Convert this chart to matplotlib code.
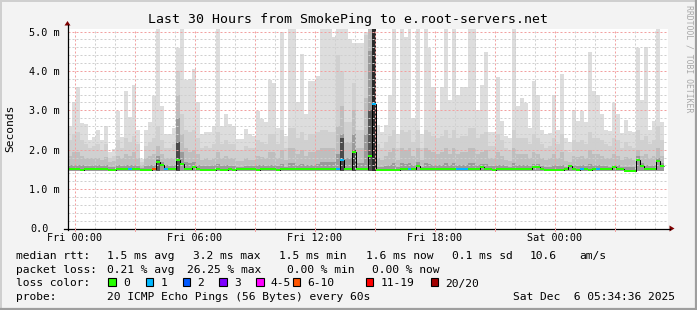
import numpy as np
import matplotlib
matplotlib.use("Agg")
from matplotlib import pyplot as plt
from matplotlib.patches import Rectangle, Polygon
from matplotlib.lines import Line2D

plt.rcParams['font.family'] = 'DejaVu Sans Mono'
plt.rcParams['lines.scale_dashes'] = False

nan = np.nan

# time axis in hours relative to Fri 00:00, 12 minute bins
t_start = -0.35
bin_hours = 0.2
x_ticks = [0, 6, 12, 18, 24]
x_ticklabels = ["Fri 00:00", "Fri 06:00", "Fri 12:00", "Fri 18:00", "Sat 00:00"]
y_ticks = [0, 1, 2, 3, 4, 5]
y_ticklabels = ["0.0", "1.0 m", "2.0 m", "3.0 m", "4.0 m", "5.0 m"]

# smoke, ms (max / upper / middle / inner shade tops)
ping_floor = 1.45
ping_max = [
    2.61, 3.22, 3.60, 2.68, 2.64, 2.25, 2.33, 2.51, 2.25, 2.61,
    1.94, 2.02, 2.97, 2.31, 3.50, 2.82, 3.63, 2.51, 1.77, 2.51,
    2.71, 3.36, 5.07, 3.12, 2.40, 2.40, 2.55, 4.58, 5.07, 3.76,
    3.80, 4.04, 3.20, 2.40, 2.46, 2.46, 2.59, 5.07, 2.59, 2.91,
    2.64, 2.61, 2.26, 2.27, 2.52, 2.40, 2.36, 2.97, 2.78, 2.70,
    3.76, 3.70, 2.56, 4.98, 2.36, 5.07, 5.07, 3.20, 4.43, 2.90,
    3.74, 3.74, 3.87, 5.07, 5.07, 5.07, 4.85, 5.07, 5.07, 5.07,
    4.80, 4.70, 4.70, 4.70, 4.98, 5.07, 5.07, 2.63, 2.45, 2.63,
    3.40, 5.07, 2.40, 5.07, 4.85, 5.07, 2.80, 5.07, 2.40, 5.07,
    4.57, 3.60, 3.00, 3.58, 5.07, 3.25, 5.07, 3.38, 3.60, 3.60,
    5.07, 5.07, 3.00, 3.65, 4.47, 2.46, 2.46, 3.84, 2.74, 2.36,
    2.29, 5.07, 3.10, 3.30, 3.18, 2.54, 3.74, 3.38, 2.51, 2.40,
    2.43, 3.40, 2.51, 3.93, 2.29, 2.19, 3.00, 2.74, 2.98, 2.70,
    4.49, 3.50, 3.38, 2.90, 2.51, 2.48, 3.19, 2.91, 2.43, 2.76,
    2.48, 2.46, 4.57, 3.27, 4.61, 2.51, 2.74, 5.07, 2.71, nan,
]
ping_hi = [
    2.25, 2.40, 2.45, 2.25, 2.15, 2.05, 2.10, 2.15, 2.00, 2.15,
    1.80, 1.85, 2.25, 2.05, 2.30, 2.20, 2.35, 2.15, 1.70, 2.10,
    2.20, 2.30, 2.60, 2.25, 2.05, 2.05, 2.15, 4.00, 2.90, 2.50,
    2.45, 2.50, 2.30, 2.05, 2.10, 2.05, 2.15, 2.45, 2.15, 2.25,
    2.15, 2.15, 2.00, 2.00, 2.10, 2.05, 2.05, 2.25, 2.20, 2.15,
    2.40, 2.40, 2.15, 2.50, 2.05, 2.55, 2.55, 2.30, 2.45, 2.25,
    2.40, 2.40, 2.45, 2.50, 2.50, 2.45, 2.45, 4.40, 4.00, 2.70,
    2.70, 3.70, 2.50, 2.50, 4.90, 5.07, 5.07, 2.15, 2.05, 2.20,
    2.35, 2.50, 2.05, 2.50, 2.45, 2.50, 2.20, 2.50, 2.05, 2.50,
    2.45, 2.35, 2.30, 2.35, 2.50, 2.30, 2.50, 2.30, 2.35, 2.35,
    2.55, 2.55, 2.30, 2.40, 2.45, 2.10, 2.10, 2.40, 2.25, 2.05,
    2.00, 2.50, 2.30, 2.30, 2.30, 2.15, 2.40, 2.30, 2.15, 2.05,
    2.10, 2.30, 2.15, 2.40, 2.00, 1.95, 2.25, 2.20, 2.25, 2.15,
    2.45, 2.30, 2.30, 2.25, 2.15, 2.10, 2.30, 2.25, 2.05, 2.20,
    2.10, 2.05, 2.50, 2.25, 2.35, 2.15, 2.25, 2.60, 2.25, nan,
]
ping_mid = [
    1.85, 1.95, 1.95, 1.85, 1.80, 1.78, 1.80, 1.80, 1.75, 1.82,
    1.70, 1.72, 1.85, 1.78, 1.90, 1.85, 1.95, 1.80, 1.62, 1.80,
    1.85, 1.90, 2.10, 1.90, 1.80, 1.80, 1.80, 3.40, 2.40, 2.05,
    1.95, 2.00, 1.90, 1.75, 1.78, 1.75, 1.80, 1.95, 1.80, 1.85,
    1.80, 1.80, 1.72, 1.72, 1.78, 1.75, 1.75, 1.85, 1.82, 1.80,
    1.95, 1.95, 1.80, 2.00, 1.75, 2.05, 2.05, 1.90, 2.00, 1.85,
    1.95, 1.95, 2.00, 2.05, 2.05, 2.05, 2.05, 2.60, 3.10, 2.20,
    2.20, 3.00, 2.05, 2.05, 3.30, 5.07, 5.07, 1.80, 1.75, 1.85,
    1.95, 2.05, 1.75, 2.05, 2.00, 2.05, 1.85, 2.05, 1.75, 2.05,
    2.00, 1.95, 1.90, 1.95, 2.05, 1.90, 2.05, 1.90, 1.95, 1.95,
    2.05, 2.05, 1.90, 1.95, 2.00, 1.78, 1.78, 1.95, 1.85, 1.75,
    1.72, 2.05, 1.90, 1.90, 1.90, 1.80, 1.95, 1.90, 1.80, 1.75,
    1.78, 1.90, 1.80, 1.95, 1.72, 1.70, 1.85, 1.82, 1.85, 1.80,
    2.00, 1.90, 1.90, 1.85, 1.80, 1.78, 1.88, 1.85, 1.75, 1.82,
    1.78, 1.75, 2.00, 1.85, 1.90, 1.80, 1.85, 2.05, 1.85, nan,
]
ping_dark = [
    1.60, 1.62, 1.62, 1.60, 1.58, 1.58, 1.60, 1.60, 1.58, 1.60,
    1.56, 1.56, 1.60, 1.58, 1.62, 1.60, 1.62, 1.58, 1.54, 1.58,
    1.60, 1.62, 1.85, 1.70, 1.60, 1.58, 1.60, 2.80, 1.95, 1.68,
    1.66, 1.68, 1.62, 1.58, 1.58, 1.58, 1.60, 1.64, 1.58, 1.60,
    1.58, 1.58, 1.56, 1.56, 1.58, 1.58, 1.58, 1.60, 1.60, 1.58,
    1.62, 1.62, 1.58, 1.64, 1.56, 1.66, 1.66, 1.62, 1.64, 1.60,
    1.62, 1.62, 1.64, 1.68, 1.68, 1.68, 1.68, 1.90, 2.40, 1.80,
    1.80, 2.40, 1.66, 1.66, 2.40, 4.50, 5.07, 1.56, 1.56, 1.58,
    1.62, 1.66, 1.56, 1.66, 1.64, 1.66, 1.60, 1.68, 1.56, 1.66,
    1.64, 1.62, 1.60, 1.62, 1.66, 1.60, 1.66, 1.60, 1.62, 1.62,
    1.66, 1.66, 1.60, 1.64, 1.64, 1.58, 1.58, 1.62, 1.60, 1.58,
    1.56, 1.66, 1.60, 1.60, 1.60, 1.58, 1.64, 1.64, 1.58, 1.56,
    1.56, 1.60, 1.58, 1.62, 1.56, 1.60, 1.60, 1.58, 1.60, 1.58,
    1.64, 1.60, 1.60, 1.58, 1.58, 1.56, 1.62, 1.60, 1.56, 1.56,
    1.56, 1.56, 1.85, 1.66, 1.62, 1.58, 1.60, 1.80, 1.66, nan,
]
core_bins = [22, 27, 68, 71, 75, 76]
core_top = [1.75, 2.20, 2.30, 2.00, 3.00, 5.07]
core_shade = ["#5a5a5a", "#4a4a4a", "#4a4a4a", "#4a4a4a", "#555555", "#2a2a2a"]

# median rtt, ms
median = [
    1.50, 1.51, 1.50, 1.49, 1.50, 1.51, 1.51, 1.50, 1.50, 1.50,
    1.49, 1.49, 1.50, 1.50, 1.51, 1.51, 1.50, 1.50, 1.49, 1.49,
    1.49, 1.50, 1.68, 1.62, 1.52, 1.50, 1.50, 1.75, 1.64, 1.50,
    1.50, 1.56, 1.50, 1.49, 1.49, 1.49, 1.49, 1.50, 1.49, 1.49,
    1.50, 1.49, 1.50, 1.50, 1.50, 1.50, 1.50, 1.49, 1.50, 1.50,
    1.50, 1.50, 1.49, 1.50, 1.50, 1.51, 1.50, 1.50, 1.50, 1.51,
    1.50, 1.50, 1.50, 1.51, 1.50, 1.50, 1.51, 1.50, 1.73, 1.50,
    1.50, 1.95, 1.52, 1.50, 1.50, 1.85, 3.15, 1.48, 1.48, 1.49,
    1.49, 1.48, 1.49, 1.50, 1.51, 1.50, 1.50, 1.58, 1.50, 1.51,
    1.50, 1.50, 1.50, 1.50, 1.50, 1.51, 1.50, 1.50, 1.50, 1.50,
    1.50, 1.50, 1.50, 1.56, 1.50, 1.50, 1.49, 1.50, 1.51, 1.50,
    1.50, 1.50, 1.51, 1.50, 1.50, 1.50, 1.57, 1.57, 1.50, 1.49,
    1.49, 1.48, 1.48, 1.49, 1.50, 1.58, 1.50, 1.49, 1.50, 1.50,
    1.49, 1.50, 1.50, 1.50, 1.51, 1.50, 1.56, 1.50, 1.50, 1.47,
    1.47, 1.47, 1.75, 1.58, 1.51, 1.50, 1.50, 1.71, 1.58, nan,
]
# loss class per bin (index into loss_labels); all others are 0
loss_bins = [15, 21, 24, 67, 68, 76, 85, 97, 98, 99, 128, 132]
loss_class = [1, 5, 1, 1, 1, 1, 1, 1, 1, 1, 1, 1]

loss_labels = ["0", "1", "2", "3", "4-5", "6-10", "11-19", "20/20"]
loss_colors = ["#26ff00", "#00b8ff", "#0059ff", "#7e00ff",
               "#ff00ff", "#ff5500", "#ff0000", "#a10000"]

W, H = 697, 310
fig = plt.figure(figsize=(W / 100, H / 100), dpi=100, facecolor="#f3f3f3")

# plot area: x 67..667 px, y 28..228 px
ax = fig.add_axes([67.5 / W, (H - 228.5) / H, 600 / W, 200 / H])
ax.set_facecolor("white")
ax.set_xlim(t_start, t_start + 30)
ax.set_ylim(0, 200 / 39.4)
for s in ax.spines.values():
    s.set_visible(False)
ax.set_xticks([])
ax.set_yticks([])

n = int(np.count_nonzero(~np.isnan(median)))
edges = t_start + bin_hours * np.arange(n + 1)

# smoke
layers = [(ping_max, "#dddddd"), (ping_hi, "#d0d0d0"),
          (ping_mid, "#bebebe"), (ping_dark, "#9a9a9a")]
for vals, col in layers:
    ax.stairs(np.asarray(vals[:n]), edges, baseline=ping_floor, fill=True,
              color=col, lw=0, zorder=1)
ax.bar(edges[core_bins], np.asarray(core_top) - ping_floor, bottom=ping_floor,
       width=bin_hours, align="edge", color=core_shade, lw=0, zorder=1)

# grid
dots = (0, (1.44, 1.44))
for v in np.arange(0.2, 5.01, 0.2):
    if abs(v - round(v)) < 1e-6:
        ax.axhline(v, color="#f2a0a0", lw=0.72, ls=dots, zorder=3)
    else:
        ax.axhline(v, color="#cfcfcf", lw=0.72, ls=dots, zorder=3)
for h in range(0, 30):
    if h % 3 == 0:
        ax.axvline(h, color="#f2a0a0", lw=0.72, ls=dots, zorder=3)
    else:
        ax.axvline(h, color="#cfcfcf", lw=0.72, ls=dots, zorder=3)

# median line coloured by loss
med = np.asarray(median[:n])
cls = np.zeros(n, dtype=int)
cls[loss_bins] = loss_class
ax.stairs(med, edges, baseline=None, color="black", lw=0.72, zorder=4)
ax.hlines(med, edges[:-1], edges[1:], colors=[loss_colors[c] for c in cls],
          lw=1.44, zorder=5)

# tick labels
for v, lab in zip(y_ticks, y_ticklabels):
    xr = -7.5 / 600 if lab != "0.0" else -19 / 600
    ax.text(xr, v, lab, transform=ax.get_yaxis_transform(), ha="right",
            va="center_baseline", fontsize=7.3, color="black")
for h, lab in zip(x_ticks, x_ticklabels):
    ax.text(h, -12.2 / 200, lab, transform=ax.get_xaxis_transform(),
            ha="center", va="baseline", fontsize=7.3, color="black")

# pixel overlay for frame, axes arrows and legend
pix = fig.add_axes([0, 0, 1, 1], facecolor="none", zorder=10)
pix.set_xlim(0, W)
pix.set_ylim(H, 0)
pix.axis("off")

pix.add_line(Line2D([0, W], [0.75, 0.75], color="#cfcfcf", lw=1.4))
pix.add_line(Line2D([0.75, 0.75], [0, H], color="#cfcfcf", lw=1.4))
pix.add_line(Line2D([0, W], [H - 1, H - 1], color="#9e9e9e", lw=1.6))
pix.add_line(Line2D([W - 1, W - 1], [0, H], color="#9e9e9e", lw=1.6))

pix.add_line(Line2D([67.5, 67.5], [25, 230], color="black", lw=0.9))
pix.add_line(Line2D([64, 670], [228.5, 228.5], color="black", lw=0.9))
pix.add_patch(Polygon([(64.5, 25.5), (70.5, 25.5), (67.5, 21)], closed=True,
                      color="#7f0000", lw=0))
pix.add_patch(Polygon([(669.5, 225.5), (669.5, 231.5), (674.5, 228.5)],
                      closed=True, color="#7f0000", lw=0))
for h in range(0, 30, 3):
    xp = 67.5 + (h - t_start) * 20
    pix.add_line(Line2D([xp, xp], [228.5, 231], color="#f2a0a0", lw=0.72))

pix.text(348, 23.5, "Last 30 Hours from SmokePing to e.root-servers.net",
         ha="center", va="baseline", fontsize=9.5, color="black")
pix.text(10, 128, "Seconds", rotation=90, ha="center", va="center",
         fontsize=8.1, color="black")
pix.text(688.5, 59, "RRDTOOL / TOBI OETIKER", rotation=270, ha="center",
         va="center", fontsize=5.9, color="#a8a8a8")

fs = 8.1
line1 = [(16, "median rtt:"), (107.3, "1.5 ms avg"), (193.3, "3.2 ms max"),
         (279.3, "1.5 ms min"), (365.7, "1.6 ms now"), (451.7, "0.1 ms sd"),
         (530, "10.6"), (579.3, "am/s")]
line2 = [(16, "packet loss:"), (107.3, "0.21 % avg"), (187.3, "26.25 % max"),
         (286.7, "0.00 % min"), (372.3, "0.00 % now")]
line4 = [(16, "probe:"), (107.3, "20 ICMP Echo Pings (56 Bytes) every 60s"),
         (513.3, "Sat Dec  6 05:34:36 2025")]
for base, items in [(259, line1), (273, line2), (300.3, line4)]:
    for xp, s in items:
        pix.text(xp, base, s, ha="left", va="baseline", fontsize=fs)
pix.text(16, 286.5, "loss color:", ha="left", va="baseline", fontsize=fs)
square_x = [108.3, 145.7, 182.7, 219.3, 256, 292.7, 365.7, 430.7]
for xp, lab, col in zip(square_x, loss_labels, loss_colors):
    pix.add_patch(Rectangle((xp, 278), 7.5, 8, facecolor=col,
                            edgecolor="black", lw=0.8))
    pix.text(xp + 14.5, 286.5, lab, ha="left", va="baseline", fontsize=fs)

fig.savefig("out.png", dpi=100, facecolor=fig.get_facecolor())
